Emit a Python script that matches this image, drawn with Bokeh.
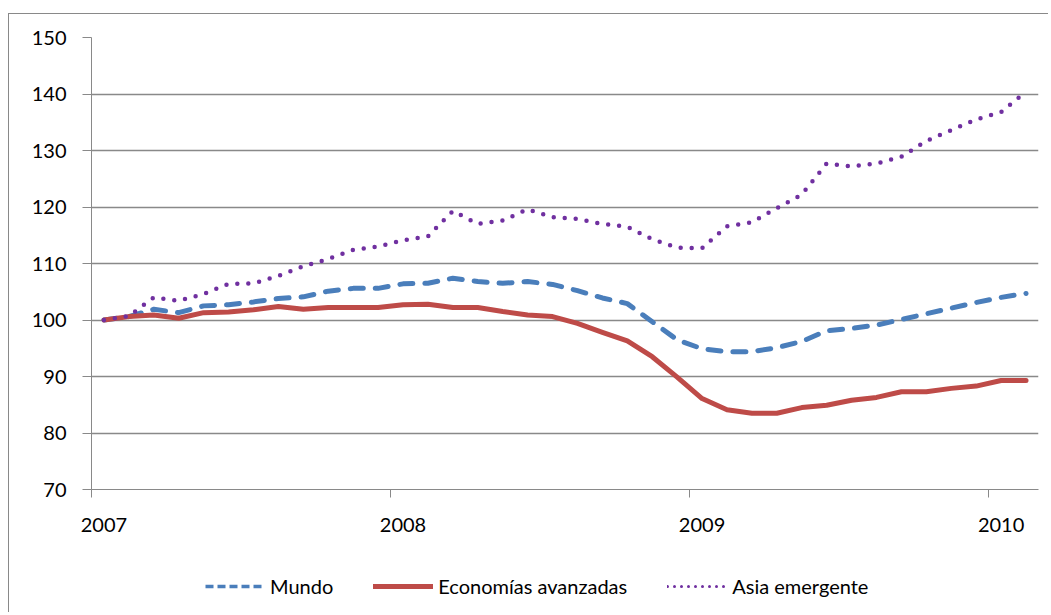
from bokeh.plotting import figure
from bokeh.models import Range1d, FixedTicker, Legend, LegendItem, Spacer
from bokeh.layouts import column, row
from bokeh.embed import file_html
from bokeh.resources import INLINE

# Monthly index, Jan 2007 .. Feb 2010 (38 months)
month_pos = list(range(38))
year_ticks = [0, 12, 24, 36]
year_labels = ["2007", "2008", "2009", "2010"]
year_bounds = [-0.5, 11.5, 23.5, 35.5]
y_ticks = [70, 80, 90, 100, 110, 120, 130, 140, 150]
series_names = ["Mundo", "Economías avanzadas", "Asia emergente"]

mundo = [100, 100.6, 101.9, 101.3, 102.5, 102.7, 103.2, 103.8, 104.1, 105.1, 105.6, 105.6,
         106.4, 106.5, 107.4, 106.8, 106.5, 106.8, 106.3, 105.2, 103.9, 102.9, 99.7, 96.5,
         94.9, 94.4, 94.4, 95.1, 96.2, 98.1, 98.5, 99.1, 100.1, 101.1, 102.1, 103.1,
         104.0, 104.7]
avanzadas = [100, 100.6, 100.9, 100.3, 101.3, 101.4, 101.8, 102.4, 101.9, 102.2, 102.2, 102.2,
             102.7, 102.8, 102.2, 102.2, 101.5, 100.9, 100.6, 99.4, 97.8, 96.3, 93.5, 89.9,
             86.1, 84.1, 83.5, 83.5, 84.5, 84.9, 85.8, 86.3, 87.3, 87.3, 87.9, 88.3,
             89.3, 89.3]
asia = [100, 100.7, 104.0, 103.4, 104.6, 106.4, 106.5, 107.8, 109.5, 110.8, 112.4, 113.0,
        114.1, 114.8, 119.3, 117.0, 117.6, 119.6, 118.2, 117.9, 117.0, 116.5, 114.3, 112.8,
        112.7, 116.6, 117.3, 119.8, 122.2, 127.7, 127.2, 127.7, 128.9, 131.7, 133.6, 135.5,
        136.8, 140.4]

FONT = "Lato"
FSIZE = "20px"
GRAY = "#898989"
W = 1040

p = figure(width=W, height=545, output_backend="svg", toolbar_location=None,
           x_range=Range1d(-0.5, 37.5), y_range=Range1d(70, 150),
           min_border_left=82, min_border_top=23, min_border_right=11, min_border_bottom=70)
p.outline_line_color = None
p.background_fill_color = "white"
p.border_fill_color = "white"
p.styles = {"border-top": f"1px solid {GRAY}", "border-left": f"1px solid {GRAY}"}

# x axis
p.xaxis.ticker = FixedTicker(ticks=year_ticks, minor_ticks=year_bounds)
p.xaxis.major_label_overrides = {t: l for t, l in zip(year_ticks, year_labels)}
p.xaxis.major_tick_line_color = None
p.xaxis.minor_tick_out = 8
p.xaxis.minor_tick_in = 0
p.xaxis.minor_tick_line_color = GRAY
p.xaxis.axis_line_color = GRAY
p.xaxis.major_label_standoff = 20
p.xaxis.major_label_text_font = FONT
p.xaxis.major_label_text_font_size = FSIZE
p.xaxis.major_label_text_color = "black"
p.xgrid.visible = False

# y axis
p.yaxis.ticker = FixedTicker(ticks=y_ticks)
p.yaxis.major_tick_out = 9
p.yaxis.major_tick_in = 0
p.yaxis.minor_tick_line_color = None
p.yaxis.major_tick_line_color = GRAY
p.yaxis.axis_line_color = GRAY
p.yaxis.major_label_standoff = 16
p.yaxis.major_label_text_font = FONT
p.yaxis.major_label_text_font_size = FSIZE
p.yaxis.major_label_text_color = "black"
p.ygrid.ticker = FixedTicker(ticks=y_ticks)
p.ygrid.grid_line_color = GRAY
p.ygrid.grid_line_width = 1.3

styles = dict(
    mundo=dict(line_color="#4A7EBB", line_width=5, line_dash="13 12", line_cap="round", line_join="round"),
    avanzadas=dict(line_color="#BE4B48", line_width=5, line_cap="round", line_join="round"),
    asia=dict(line_color="#7030A0", line_width=4.5, line_dash="0 11", line_cap="round", line_join="round"),
)
p.line(month_pos, mundo, **styles["mundo"])
p.line(month_pos, avanzadas, **styles["avanzadas"])
p.line(month_pos, asia, **styles["asia"])

# legend strip below the chart (sample lines sit outside the visible range)
lg = figure(width=W, height=54, output_backend="svg", toolbar_location=None,
            x_axis_type=None, y_axis_type=None, x_range=Range1d(0, 1), y_range=Range1d(0, 1),
            min_border=0)
lg.outline_line_color = None
lg.grid.visible = False
lg.styles = {"border-left": f"1px solid {GRAY}"}
off = ([-10, -9], [-10, -10])
l1 = lg.line(*off, **{**styles["mundo"], "line_width": 3.5, "line_dash": "8 4", "line_cap": "butt"})
l2 = lg.line(*off, **styles["avanzadas"])
l3 = lg.line(*off, **{**styles["asia"], "line_width": 3, "line_dash": "0 7"})
legend = Legend(items=[LegendItem(label=series_names[0], renderers=[l1]),
                       LegendItem(label=series_names[1], renderers=[l2]),
                       LegendItem(label=series_names[2], renderers=[l3])],
                orientation="horizontal", location=(114, 14),
                glyph_width=60, glyph_height=20, label_standoff=5, spacing=40,
                padding=0, margin=0, border_line_color=None, background_fill_alpha=0,
                label_text_font=FONT, label_text_font_size=FSIZE, label_text_color="black")
lg.add_layout(legend, "center")

layout = row(Spacer(width=8, height=5), column(Spacer(width=W, height=13), p, lg, spacing=0), spacing=0)

open("out.html", "w").write(file_html(layout, INLINE))
